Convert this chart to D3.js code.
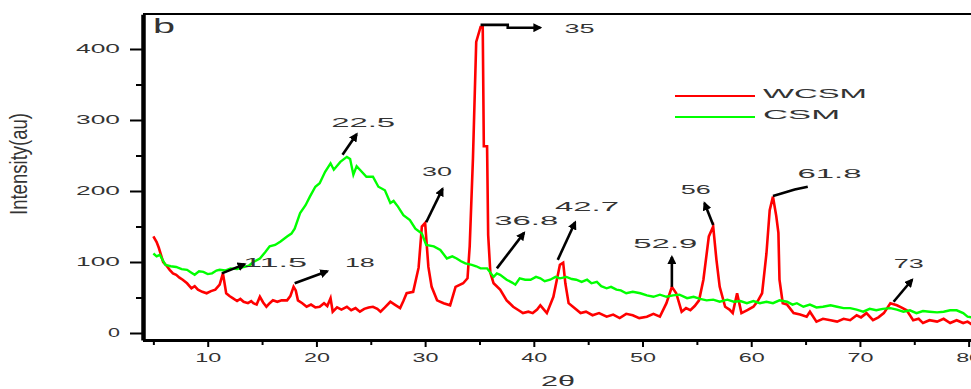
<!DOCTYPE html>
<html>
<head>
<meta charset="utf-8">
<script src="https://cdn.jsdelivr.net/npm/d3@7"></script>
<style>
  body { margin: 0; background: #fff; }
  svg text { font-family: "Liberation Sans", Arial, sans-serif; fill: #333; }
</style>
</head>
<body>
<div id="vis"></div>
<script>
// XRD patterns (2theta, intensity in au)
const WCSM_X = [5.0, 5.3, 5.5, 5.9, 6.2, 6.5, 6.8, 7.1, 7.4, 7.7, 8.1, 8.5, 8.8, 9.1, 9.5, 9.9, 10.3, 10.7, 11.1, 11.4,
  11.7, 12.0, 12.3, 12.7, 13.0, 13.3, 13.7, 14.0, 14.2, 14.5, 14.8, 15.1, 15.4, 15.7, 16.0, 16.4, 16.8, 17.3, 17.6, 17.9,
  18.1, 18.3, 18.7, 19.1, 19.5, 19.9, 20.3, 20.7, 21.0, 21.3, 21.5, 21.9, 22.3, 22.8, 23.2, 23.6, 24.0, 24.4, 24.8, 25.2,
  25.6, 25.9, 26.3, 26.8, 27.2, 27.7, 28.0, 28.3, 28.9, 29.4, 29.7, 30.0, 30.3, 30.6, 31.1, 31.7, 32.3, 32.8, 33.5, 33.9,
  34.1, 34.4, 34.7, 35.1, 35.3, 35.4, 35.7, 35.8, 36.0, 36.3, 36.9, 37.5, 38.1, 38.6, 39.0, 39.5, 39.9, 40.3, 40.6, 41.2,
  41.8, 42.4, 42.7, 42.9, 43.2, 43.6, 44.3, 44.8, 45.4, 46.0, 46.7, 47.3, 47.9, 48.5, 49.1, 49.7, 50.4, 51.0, 51.6, 52.2,
  52.7, 53.1, 53.6, 54.0, 54.4, 54.8, 55.2, 55.6, 56.1, 56.5, 56.8, 57.1, 57.6, 58.0, 58.3, 58.7, 59.1, 59.6, 60.2, 60.6,
  61.0, 61.4, 61.7, 62.0, 62.3, 62.5, 62.6, 62.9, 63.3, 63.9, 64.5, 65.1, 65.4, 66.0, 66.6, 67.3, 67.9, 68.5, 69.1, 69.7,
  70.1, 70.6, 71.2, 71.7, 72.2, 72.8, 73.4, 73.8, 74.3, 74.9, 75.4, 75.8, 76.4, 77.1, 77.7, 78.3, 78.9, 79.5, 79.9, 80.3];
const WCSM_Y = [136, 128, 120, 100, 95, 89, 84, 82, 78, 75, 70, 63, 66, 61, 58, 56, 59, 61, 68, 84,
  56, 52, 49, 45, 48, 44, 42, 45, 42, 40, 51, 43, 37, 42, 46, 44, 46, 46, 52, 65,
  60, 46, 42, 37, 40, 36, 37, 42, 38, 49, 30, 36, 33, 37, 32, 35, 30, 34, 36, 37,
  34, 30, 36, 44, 40, 35, 45, 56, 58, 92, 150, 155, 93, 65, 46, 42, 39, 65, 70, 77,
  122, 246, 410, 431, 431, 263, 263, 138, 85, 70, 61, 46, 37, 32, 28, 30, 28, 33, 39, 28,
  51, 96, 99, 70, 42, 37, 28, 30, 25, 28, 23, 26, 21, 27, 25, 21, 23, 27, 23, 42,
  65, 56, 30, 35, 32, 38, 46, 75, 136, 150, 103, 65, 37, 33, 28, 56, 28, 32, 37, 45,
  56, 112, 173, 192, 165, 141, 75, 42, 40, 28, 26, 23, 30, 16, 20, 18, 16, 20, 18, 25,
  22, 28, 18, 22, 28, 42, 39, 36, 32, 18, 20, 14, 18, 16, 20, 14, 18, 14, 16, 12];

const CSM_X = [5.0, 5.3, 5.6, 6.1, 6.6, 7.1, 7.6, 8.1, 8.5, 8.8, 9.2, 9.6, 10.0, 10.4, 10.8, 11.1, 11.6, 12.1, 12.7, 13.3,
  13.8, 14.2, 14.8, 15.3, 15.7, 16.2, 16.7, 17.3, 17.7, 18.0, 18.5, 19.0, 19.4, 19.9, 20.3, 20.8, 21.3, 21.6, 22.2, 22.8,
  23.1, 23.4, 23.7, 24.0, 24.6, 25.2, 25.7, 26.3, 26.8, 27.1, 27.5, 28.0, 28.6, 29.1, 29.7, 30.1, 30.8, 31.4, 32.0, 32.5,
  32.9, 33.3, 33.7, 34.3, 34.7, 35.1, 35.7, 36.3, 36.6, 36.9, 37.5, 38.0, 38.3, 38.7, 39.2, 39.7, 40.2, 40.6, 41.0, 41.5,
  42.0, 42.4, 43.0, 43.5, 43.9, 44.4, 44.9, 45.3, 45.8, 46.2, 46.7, 47.1, 47.6, 48.0, 48.5, 49.1, 49.8, 50.4, 51.0, 51.6,
  52.2, 52.8, 53.4, 54.1, 54.7, 55.3, 55.9, 56.5, 57.1, 57.8, 58.4, 59.0, 59.6, 60.2, 60.8, 61.4, 62.0, 62.6, 63.3, 63.8,
  64.2, 64.8, 65.4, 66.0, 66.6, 67.3, 67.9, 68.5, 69.1, 69.7, 70.3, 70.9, 71.5, 72.1, 72.8, 73.4, 74.0, 74.6, 75.2, 75.8,
  76.4, 77.1, 77.7, 78.3, 78.9, 79.5, 79.9, 80.3];
const CSM_Y = [112, 108, 110, 96, 94, 93, 90, 89, 85, 82, 87, 86, 83, 84, 88, 89, 88, 91, 90, 93,
  95, 100, 105, 114, 122, 124, 129, 136, 140, 147, 169, 180, 192, 206, 211, 227, 239, 230, 241, 248,
  245, 223, 235, 230, 220, 220, 206, 201, 183, 186, 178, 166, 159, 147, 140, 124, 122, 117, 105, 108,
  105, 101, 98, 96, 94, 91, 91, 79, 84, 82, 75, 71, 68, 77, 75, 75, 79, 77, 73, 75,
  79, 77, 79, 76, 75, 72, 75, 70, 72, 66, 63, 65, 61, 60, 56, 58, 56, 53, 51, 54,
  51, 53, 54, 49, 51, 48, 46, 47, 44, 47, 44, 45, 42, 45, 42, 44, 42, 46, 44, 40,
  42, 37, 40, 36, 37, 39, 37, 35, 35, 33, 30, 34, 32, 34, 35, 33, 30, 32, 28, 31,
  30, 29, 30, 32, 32, 28, 23, 22];

const SERIES_NAMES = ["WCSM", "CSM"];
const SERIES_COLORS = ["#ff0000", "#00ff00"];

const X_TICKS = [10, 20, 30, 40, 50, 60, 70, 80];
const X_MINOR = [5, 15, 25, 35, 45, 55, 65, 75];
const Y_TICKS = [0, 100, 200, 300, 400];
const Y_MINOR = [50, 150, 250, 350];

// peak labels: text, text anchor point, arrow path (all in data units)
const PEAK_LABELS = ["11.5", "18", "22.5", "30", "35", "36.8", "42.7", "52.9", "56", "61.8", "73"];
const PEAK_TEXT_X = [16.2, 24.0, 24.3, 31.1, 44.2, 39.3, 44.9, 52.1, 54.9, 67.2, 74.5];
const PEAK_TEXT_Y = [100, 100, 297, 228, 430, 159, 179, 127, 203, 225, 99];
const PEAK_ARROWS = [
  [[11.3, 84], [13.4, 97]],
  [[18.0, 70], [21.0, 87]],
  [[22.4, 251], [23.7, 280]],
  [[30.1, 156], [31.6, 203]],
  [[35.1, 434], [37.6, 434], [37.6, 430], [40.6, 430]],
  [[36.6, 91], [39.1, 141]],
  [[42.2, 103], [43.8, 156]],
  [[52.7, 65], [52.7, 107]],
  [[56.5, 152], [55.7, 183]],
  [[62.0, 193], [62.7, 196], [64.0, 202], [65.2, 206]],
  [[73.1, 44], [74.8, 75]]
];
const PEAK_HEADS = [true, true, true, true, true, true, true, true, true, false, true];

const FRAME_WIDTH = 971;
const FRAME_HEIGHT = 389;

const FRAME = d3.select("#vis")
  .append("svg")
    .attr("width", FRAME_WIDTH)
    .attr("height", FRAME_HEIGHT);

const X_SCALE = d3.scaleLinear().domain([4, 81]).range([142.5, 979.5]);
const Y_SCALE = d3.scaleLinear().domain([-10, 449]).range([340.1, 14.2]);

// stretch text horizontally like the source picture
function stretch(sel, perChar) {
  sel.attr("textLength", function() { return this.textContent.length * perChar - 4; })
     .attr("lengthAdjust", "spacingAndGlyphs");
}

// top frame line
FRAME.append("line")
  .attr("x1", 143).attr("x2", FRAME_WIDTH)
  .attr("y1", 14).attr("y2", 14)
  .attr("stroke", "#000").attr("stroke-width", 2);

// y axis
const yMinor = FRAME.append("g")
  .attr("transform", "translate(143,0)")
  .call(d3.axisLeft(Y_SCALE).tickValues(Y_MINOR).tickSize(7).tickFormat(""));
yMinor.select(".domain").remove();
yMinor.selectAll("line").attr("stroke-width", 2);

const yAxis = FRAME.append("g")
  .attr("transform", "translate(143,0)")
  .call(d3.axisLeft(Y_SCALE).tickValues(Y_TICKS).tickSize(13).tickSizeOuter(0).tickPadding(10));
yAxis.select(".domain").attr("stroke-width", 4.5);
yAxis.selectAll("line").attr("stroke-width", 2);
yAxis.selectAll("text").attr("font-size", 12).attr("fill", "#333").call(stretch, 16);

// x axis
const xMinor = FRAME.append("g")
  .attr("transform", "translate(0,340)")
  .call(d3.axisBottom(X_SCALE).tickValues(X_MINOR).tickSize(5).tickFormat(""));
xMinor.select(".domain").remove();
xMinor.selectAll("line").attr("stroke-width", 2);

const xAxis = FRAME.append("g")
  .attr("transform", "translate(0,340)")
  .call(d3.axisBottom(X_SCALE).tickValues(X_TICKS).tickSize(7).tickSizeOuter(0).tickPadding(6));
xAxis.select(".domain").attr("stroke-width", 3);
xAxis.selectAll("line").attr("stroke-width", 2);
xAxis.selectAll("text").attr("font-size", 12).attr("fill", "#333").call(stretch, 15);

// axis titles
FRAME.append("text")
  .attr("transform", "translate(27,164) scale(2,1) rotate(-90)")
  .attr("text-anchor", "middle")
  .attr("font-size", 12)
  .attr("textLength", 102).attr("lengthAdjust", "spacingAndGlyphs")
  .text("Intensity(au)");

FRAME.append("text")
  .attr("x", 558).attr("y", 386)
  .attr("text-anchor", "middle")
  .attr("font-size", 14)
  .attr("textLength", 34).attr("lengthAdjust", "spacingAndGlyphs")
  .text("2θ");

FRAME.append("text")
  .attr("x", 153).attr("y", 33)
  .attr("font-size", 20)
  .attr("textLength", 22).attr("lengthAdjust", "spacingAndGlyphs")
  .text("b");

// series
const line = d3.line()
  .x((d) => X_SCALE(d[0]))
  .y((d) => Y_SCALE(d[1]));

const wcsm = WCSM_X.map((x, i) => [x, WCSM_Y[i]]);
const csm = CSM_X.map((x, i) => [x, CSM_Y[i]]);

FRAME.append("path")
  .datum(wcsm)
  .attr("d", line)
  .attr("fill", "none")
  .attr("stroke", SERIES_COLORS[0])
  .attr("stroke-width", 2.6);

FRAME.append("path")
  .datum(csm)
  .attr("d", line)
  .attr("fill", "none")
  .attr("stroke", SERIES_COLORS[1])
  .attr("stroke-width", 2.4);

// legend
SERIES_NAMES.forEach((name, i) => {
  const y = 96 + i * 21;
  FRAME.append("line")
    .attr("x1", 675).attr("x2", 755)
    .attr("y1", y).attr("y2", y)
    .attr("stroke", SERIES_COLORS[i]).attr("stroke-width", 2.2);
  FRAME.append("text")
    .attr("x", 763).attr("y", y + 2)
    .attr("font-size", 13)
    .attr("textLength", name.length * 27 - 4).attr("lengthAdjust", "spacingAndGlyphs")
    .text(name);
});

// peak annotations
FRAME.append("defs").append("marker")
  .attr("id", "head")
  .attr("markerUnits", "userSpaceOnUse")
  .attr("markerWidth", 9).attr("markerHeight", 9)
  .attr("refX", 7).attr("refY", 4.5)
  .attr("orient", "auto")
  .append("path")
    .attr("d", "M0,0 L9,4.5 L0,9 z")
    .attr("fill", "#000");

const arrowLine = d3.line()
  .x((d) => X_SCALE(d[0]))
  .y((d) => Y_SCALE(d[1]));

PEAK_ARROWS.forEach((pts, i) => {
  FRAME.append("path")
    .attr("d", arrowLine(pts))
    .attr("fill", "none")
    .attr("stroke", "#000")
    .attr("stroke-width", 2.6)
    .attr("marker-end", PEAK_HEADS[i] ? "url(#head)" : null);
});

FRAME.selectAll(".peak")
  .data(PEAK_LABELS)
  .enter()
  .append("text")
    .attr("class", "peak")
    .attr("x", (d, i) => X_SCALE(PEAK_TEXT_X[i]))
    .attr("y", (d, i) => Y_SCALE(PEAK_TEXT_Y[i]) + 5)
    .attr("text-anchor", "middle")
    .attr("font-size", 13)
    .text((d) => d)
    .call(stretch, 17);
</script>
</body>
</html>
